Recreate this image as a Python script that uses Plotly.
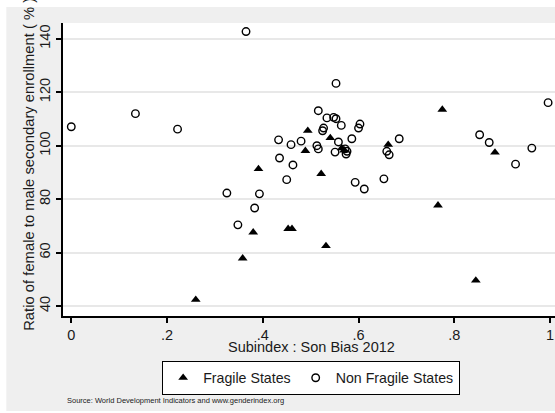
import plotly.graph_objects as go

# Fragile States (filled triangles)
fragile_x = [0.260, 0.358, 0.380, 0.391, 0.453, 0.461, 0.494, 0.489, 0.541, 0.565,
             0.570, 0.522, 0.532, 0.662, 0.775, 0.766, 0.845, 0.885]
fragile_y = [42.4, 57.9, 67.6, 91.3, 68.9, 68.9, 105.6, 98.1, 102.9, 99.1,
             98.3, 89.5, 62.5, 100.4, 113.5, 77.7, 49.6, 97.5]

# Non Fragile States (hollow circles)
nonfragile_x = [0.000, 0.134, 0.222, 0.365, 0.325, 0.393, 0.383, 0.348, 0.433, 0.435,
                0.459, 0.480, 0.463, 0.450, 0.516, 0.534, 0.548, 0.553, 0.564, 0.527,
                0.525, 0.603, 0.600, 0.513, 0.516, 0.558, 0.586, 0.551, 0.576, 0.574,
                0.572, 0.685, 0.659, 0.664, 0.593, 0.612, 0.653, 0.553, 0.996, 0.853,
                0.873, 0.962, 0.928]
nonfragile_y = [107.1, 112.0, 106.2, 142.7, 82.3, 82.0, 76.7, 70.4, 102.2, 95.4,
                100.4, 101.7, 92.8, 87.3, 113.1, 110.4, 110.6, 110.1, 107.6, 106.6,
                105.6, 108.1, 106.6, 100.0, 98.8, 101.4, 102.6, 97.6, 97.9, 96.9,
                98.8, 102.6, 97.9, 96.6, 86.3, 83.8, 87.6, 123.3, 116.1, 104.1,
                101.2, 99.1, 93.1]

x_ticks = [0, 0.2, 0.4, 0.6, 0.8, 1.0]
x_tick_labels = ["0", ".2", ".4", ".6", ".8", "1"]
y_ticks = [40, 60, 80, 100, 120, 140]
y_tick_labels = ["40", "60", "80", "100", "120", "140"]

FONT = "Liberation Sans, Arial, sans-serif"
GRAY = "#efefef"
TXT = "#1a1a1a"

fig = go.Figure()
fig.add_trace(go.Scatter(
    x=fragile_x, y=fragile_y, mode="markers", name="Fragile States",
    marker=dict(symbol="triangle-up", size=8.5, color="black"),
))
fig.add_trace(go.Scatter(
    x=nonfragile_x, y=nonfragile_y, mode="markers", name="Non Fragile States",
    marker=dict(symbol="circle-open", size=7.5, color="black", line=dict(width=1.4)),
))

W, H = 555, 413
# plot area in page pixels: x 62.7..555, y 23..316
L, T, R = 62.7, 23, 0
B = H - 316
pw, ph = W - L - R, H - T - B

def px_x(p):
    """pixel x -> paper coordinate"""
    return (p - L) / pw

def px_y(p):
    """pixel y -> paper coordinate"""
    return (H - B - p) / ph

annotations = [
    dict(text="Ratio of female to male secondary enrollment ( % )",
         xref="paper", yref="paper", x=px_x(28), y=px_y(164.5),
         xanchor="center", yanchor="middle", textangle=-90, showarrow=False,
         font=dict(size=14.8, family=FONT, color=TXT)),
    dict(text="Subindex : Son Bias 2012",
         xref="paper", yref="paper", x=px_x(311.5), y=px_y(347),
         xanchor="center", yanchor="middle", showarrow=False,
         font=dict(size=14.5, family=FONT, color=TXT)),
    dict(text="Source: World Development Indicators and www.genderindex.org",
         xref="paper", yref="paper", x=px_x(65), y=px_y(400),
         xanchor="left", yanchor="middle", showarrow=False,
         font=dict(size=7.5, family=FONT, color=TXT)),
]

white = dict(fillcolor="white", line=dict(width=0))
fig.update_layout(
    width=W, height=H,
    margin=dict(l=L, r=R, t=T, b=B, pad=0),
    paper_bgcolor=GRAY,
    plot_bgcolor="white",
    font=dict(family=FONT, size=14, color=TXT),
    showlegend=True,
    legend=dict(
        orientation="h", x=px_x(311), xanchor="center", y=px_y(361), yanchor="top",
        bgcolor="white", bordercolor="black", borderwidth=1,
        font=dict(size=14.2, family=FONT, color=TXT),
        itemwidth=30, tracegroupgap=0,
    ),
    xaxis=dict(
        range=[-0.0173, 1.0104], tickvals=x_ticks, ticktext=x_tick_labels,
        showgrid=False, zeroline=False, showline=True, linecolor="black", linewidth=1.5,
        ticks="outside", ticklen=5, tickwidth=1.5, tickcolor="black",
        tickfont=dict(size=14.5), automargin=False, ticklabeloverflow="allow",
    ),
    yaxis=dict(
        range=[36.3, 145.9], tickvals=y_ticks, ticktext=y_tick_labels,
        showgrid=True, gridcolor="#e8e8e8", gridwidth=1.5,
        zeroline=False, showline=True, linecolor="black", linewidth=1.5,
        ticks="outside", ticklen=5, tickwidth=1.5, tickcolor="black",
        tickangle=-90, tickfont=dict(size=14.5), automargin=False,
    ),
    annotations=annotations,
    shapes=[
        dict(type="rect", xref="paper", yref="paper", layer="below",
             x0=px_x(-2), x1=px_x(6), y0=px_y(-2), y1=px_y(H + 2), **white),
        dict(type="rect", xref="paper", yref="paper", layer="below",
             x0=px_x(-2), x1=px_x(W + 2), y0=px_y(-2), y1=px_y(7), **white),
        dict(type="rect", xref="paper", yref="paper", layer="below",
             x0=px_x(-2), x1=px_x(W + 2), y0=px_y(411), y1=px_y(H + 2), **white),
    ],
)

fig.write_html(
    "out.html",
    config={"displayModeBar": False},
    post_script="document.body.style.margin='0';document.body.style.overflow='hidden';",
)
